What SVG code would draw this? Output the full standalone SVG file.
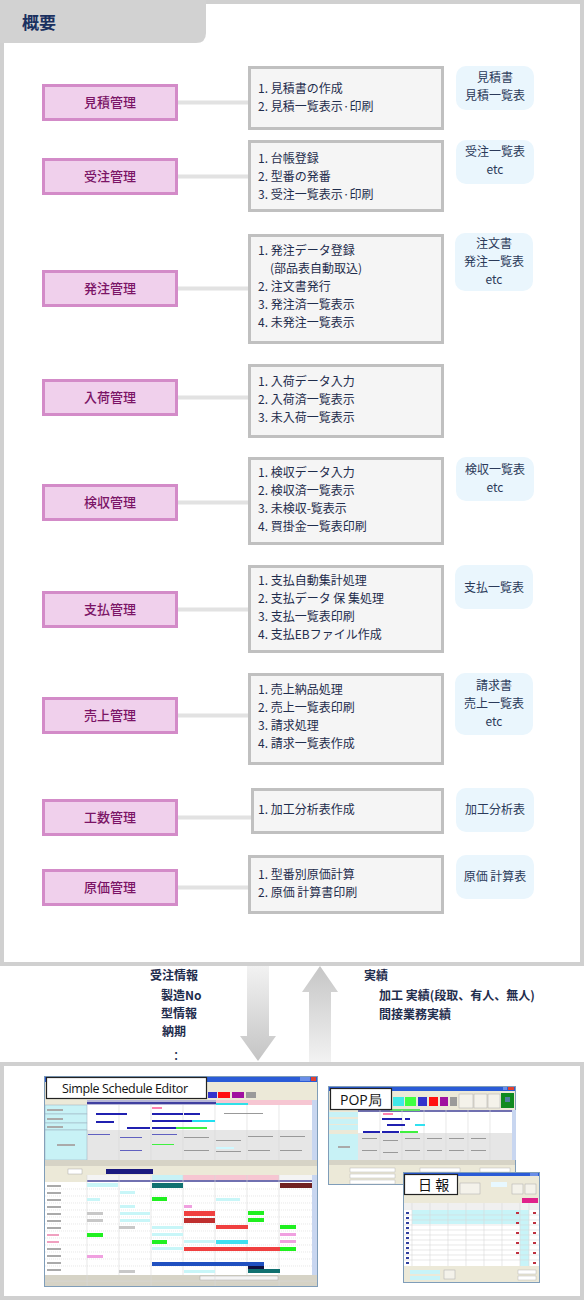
<svg xmlns="http://www.w3.org/2000/svg" width="584" height="1300" viewBox="0 0 584 1300">
<defs>
<linearGradient id="gDown" x1="0" y1="0" x2="0" y2="1"><stop offset="0" stop-color="#f2f2f2"/><stop offset="1" stop-color="#c4c4c4"/></linearGradient>
<linearGradient id="gUp" x1="0" y1="0" x2="0" y2="1"><stop offset="0" stop-color="#c6c6c6"/><stop offset="1" stop-color="#f2f2f2"/></linearGradient>
<style>
text{font-family:"Noto Sans CJK JP","Noto Sans",sans-serif}
.mod rect{fill:#f0d0ec;stroke:#d38bc8;stroke-width:3}
.mod text{font-size:13px;fill:#7b1466;text-anchor:middle;font-weight:500}
.itm rect{fill:#f5f5f5;stroke:#c0c0c0;stroke-width:3}
.itm text{font-size:12px;fill:#1f2d4d}
.out rect{fill:#eaf6fd}
.out text{font-size:12px;fill:#2b3a5a;text-anchor:middle}
.con line{stroke:#e2e2e2;stroke-width:4}
.flow{font-size:12px;fill:#1f2d4d;font-weight:bold}
.win{fill:#ece9d8;stroke:#7f9db9;stroke-width:1}
.tb{fill:#2a5bd7}
.lbl rect{fill:#ffffff;stroke:#222;stroke-width:1.2}
.lbl text{font-family:"Open Sans","DejaVu Sans",sans-serif;fill:#111}
.cy{fill:#c8f2f6}
.gl{stroke:#d8d8d8;stroke-width:0.6}
.tx{fill:#aaa}
</style>
</defs>
<rect width="584" height="1300" fill="#ffffff"/>
<!-- top panel -->
<g id="top-panel">
<rect x="0" y="0" width="584" height="966" fill="#d0d0d0"/>
<rect x="4" y="4" width="576" height="958" fill="#ffffff"/>
<path d="M0,0 H206 V33 Q206,43 196,43 H0 Z" fill="#d2d2d2"/>
<text x="22" y="29" style="font-size:17px;font-weight:bold;fill:#1a3060">概要</text>
</g>
<!-- bottom panel -->
<g id="bottom-panel">
<rect x="0" y="1062" width="584" height="238" fill="#d0d0d0"/>
<rect x="4" y="1066" width="576" height="230" fill="#ffffff"/>
</g>

<g id="connectors" class="con">
<line x1="178" y1="102.5" x2="248" y2="102.5"/>
<line x1="178" y1="176.5" x2="248" y2="176.5"/>
<line x1="178" y1="288.5" x2="248" y2="288.5"/>
<line x1="178" y1="397.5" x2="248" y2="397.5"/>
<line x1="178" y1="502.5" x2="248" y2="502.5"/>
<line x1="178" y1="609.5" x2="248" y2="609.5"/>
<line x1="178" y1="715.5" x2="248" y2="715.5"/>
<line x1="178" y1="817.5" x2="251" y2="817.5"/>
<line x1="178" y1="887.5" x2="248" y2="887.5"/>
</g>

<!-- row 1 -->
<g id="mitsumori" class="mod"><rect x="43.5" y="85.5" width="133" height="34"/><text x="110" y="107">見積管理</text></g>
<g id="mitsumori-items" class="itm"><rect x="249.5" y="67.5" width="193" height="61"/><text x="258" y="93">1. 見積書の作成</text><text x="258" y="111">2. 見積一覧表示·印刷</text></g>
<g id="mitsumori-out" class="out"><rect x="456" y="66" width="78" height="44" rx="10"/><text x="495" y="82">見積書</text><text x="495" y="100">見積一覧表</text></g>
<!-- row 2 -->
<g id="juchu" class="mod"><rect x="43.5" y="159.5" width="133" height="34"/><text x="110" y="181">受注管理</text></g>
<g id="juchu-items" class="itm"><rect x="249.5" y="141.5" width="193" height="69"/><text x="258" y="163">1. 台帳登録</text><text x="258" y="181">2. 型番の発番</text><text x="258" y="199">3. 受注一覧表示·印刷</text></g>
<g id="juchu-out" class="out"><rect x="456" y="140" width="78" height="44" rx="10"/><text x="495" y="156">受注一覧表</text><text x="495" y="174">etc</text></g>
<!-- row 3 -->
<g id="hatchu" class="mod"><rect x="43.5" y="271.5" width="133" height="34"/><text x="110" y="293">発注管理</text></g>
<g id="hatchu-items" class="itm"><rect x="249.5" y="235.5" width="193" height="107"/><text x="258" y="255">1. 発注データ登録</text><text x="270" y="273">(部品表自動取込)</text><text x="258" y="291">2. 注文書発行</text><text x="258" y="309">3. 発注済一覧表示</text><text x="258" y="327">4. 未発注一覧表示</text></g>
<g id="hatchu-out" class="out"><rect x="455" y="233" width="78" height="58" rx="10"/><text x="494" y="248">注文書</text><text x="494" y="266">発注一覧表</text><text x="494" y="284">etc</text></g>
<!-- row 4 -->
<g id="nyuka" class="mod"><rect x="43.5" y="380.5" width="133" height="34"/><text x="110" y="402">入荷管理</text></g>
<g id="nyuka-items" class="itm"><rect x="249.5" y="365.5" width="193" height="71"/><text x="258" y="386">1. 入荷データ入力</text><text x="258" y="404">2. 入荷済一覧表示</text><text x="258" y="422">3. 未入荷一覧表示</text></g>
<!-- row 5 -->
<g id="kenshu" class="mod"><rect x="43.5" y="485.5" width="133" height="34"/><text x="110" y="507">検収管理</text></g>
<g id="kenshu-items" class="itm"><rect x="249.5" y="458.5" width="193" height="85"/><text x="258" y="477">1. 検収データ入力</text><text x="258" y="495">2. 検収済一覧表示</text><text x="258" y="513">3. 未検収-覧表示</text><text x="258" y="531">4. 買掛金一覧表印刷</text></g>
<g id="kenshu-out" class="out"><rect x="456" y="457" width="78" height="44" rx="10"/><text x="495" y="474">検収一覧表</text><text x="495" y="492">etc</text></g>
<!-- row 6 -->
<g id="shiharai" class="mod"><rect x="43.5" y="592.5" width="133" height="34"/><text x="110" y="614">支払管理</text></g>
<g id="shiharai-items" class="itm"><rect x="249.5" y="566.5" width="193" height="85"/><text x="258" y="585">1. 支払自動集計処理</text><text x="258" y="603">2. 支払データ 保 集処理</text><text x="258" y="621">3. 支払一覧表印刷</text><text x="258" y="639">4. 支払EBファイル作成</text></g>
<g id="shiharai-out" class="out"><rect x="455" y="565" width="78" height="44" rx="10"/><text x="494" y="592">支払一覧表</text></g>
<!-- row 7 -->
<g id="uriage" class="mod"><rect x="43.5" y="698.5" width="133" height="34"/><text x="110" y="720">売上管理</text></g>
<g id="uriage-items" class="itm"><rect x="249.5" y="674.5" width="193" height="89"/><text x="258" y="694">1. 売上納品処理</text><text x="258" y="712">2. 売上一覧表印刷</text><text x="258" y="730">3. 請求処理</text><text x="258" y="748">4. 請求一覧表作成</text></g>
<g id="uriage-out" class="out"><rect x="455" y="673" width="78" height="62" rx="10"/><text x="494" y="690">請求書</text><text x="494" y="708">売上一覧表</text><text x="494" y="726">etc</text></g>
<!-- row 8 -->
<g id="kosu" class="mod"><rect x="43.5" y="800.5" width="133" height="34"/><text x="110" y="822">工数管理</text></g>
<g id="kosu-items" class="itm"><rect x="252.5" y="789.5" width="190" height="43"/><text x="258" y="814">1. 加工分析表作成</text></g>
<g id="kosu-out" class="out"><rect x="456" y="788" width="78" height="44" rx="10"/><text x="495" y="814">加工分析表</text></g>
<!-- row 9 -->
<g id="genka" class="mod"><rect x="43.5" y="870.5" width="133" height="34"/><text x="110" y="892">原価管理</text></g>
<g id="genka-items" class="itm"><rect x="249.5" y="856.5" width="193" height="56"/><text x="258" y="879">1. 型番別原価計算</text><text x="258" y="897">2. 原価 計算書印刷</text></g>
<g id="genka-out" class="out"><rect x="456" y="855" width="78" height="44" rx="10"/><text x="495" y="881">原価 計算表</text></g>

<!-- flow arrows -->
<g id="flow-arrows">
<path d="M247,966 H269 V1036 H276 L258,1061 L240,1036 H247 Z" fill="url(#gDown)"/>
<path d="M320,966 L338,992 H331 V1062 H309 V992 H302 Z" fill="url(#gUp)"/>
</g>
<g id="flow-down-text">
<text class="flow" x="150" y="980">受注情報</text>
<text class="flow" x="161" y="1000">製造No</text>
<text class="flow" x="161" y="1018">型情報</text>
<text class="flow" x="162" y="1036">納期</text>
<text class="flow" x="174" y="1060" style="font-size:15px;font-weight:normal">:</text>
</g>
<g id="flow-up-text">
<text class="flow" x="364" y="980">実績</text>
<text class="flow" x="379" y="1000">加工 実績(段取、有人、無人)</text>
<text class="flow" x="379" y="1019">間接業務実績</text>
</g>

<!-- Simple Schedule Editor screenshot -->
<g id="schedule-editor">
<rect class="win" x="44.5" y="1076.5" width="273" height="210"/>
<rect class="tb" x="45" y="1077" width="272" height="5"/>
<rect x="300" y="1077" width="5" height="4" fill="#6a8ee8"/><rect x="305" y="1077" width="5" height="4" fill="#6a8ee8"/><rect x="311" y="1077" width="5" height="4" fill="#e04030"/>
<rect x="208" y="1092" width="9" height="6" fill="#3333cc"/>
<rect x="218" y="1092" width="12" height="6" fill="#ff1010"/>
<rect x="232" y="1092" width="12" height="6" fill="#a010a0"/>
<rect x="246" y="1092" width="10" height="6" fill="#9a9a9a"/>
<rect x="87" y="1100" width="225" height="5" fill="#b8b8d8"/>
<rect x="87" y="1102" width="129" height="2" fill="#4040a0"/>
<rect x="216" y="1100" width="96" height="5" fill="#f6c6d2"/>
<rect x="216" y="1103" width="32" height="2" fill="#30e0e8"/>
<rect x="87" y="1105" width="225" height="55" fill="#ffffff"/>
<rect x="87" y="1130" width="225" height="30" fill="#e6e6e6"/>
<rect class="cy" x="45" y="1105" width="42" height="9" stroke="#9ab" stroke-width="0.5"/>
<rect class="cy" x="45" y="1114" width="42" height="9" stroke="#9ab" stroke-width="0.5"/>
<rect class="cy" x="45" y="1123" width="42" height="7" stroke="#9ab" stroke-width="0.5"/>
<rect class="cy" x="45" y="1130" width="42" height="30" stroke="#9ab" stroke-width="0.5"/>
<rect class="tx" x="47" y="1109" width="16" height="2"/><rect class="tx" x="47" y="1118" width="16" height="2"/><rect class="tx" x="47" y="1126" width="16" height="2"/><rect class="tx" x="57" y="1144" width="18" height="2"/>
<g class="gl"><line x1="119" y1="1105" x2="119" y2="1160"/><line x1="151" y1="1105" x2="151" y2="1160"/><line x1="183" y1="1105" x2="183" y2="1160"/><line x1="215" y1="1105" x2="215" y2="1160"/><line x1="247" y1="1105" x2="247" y2="1160"/><line x1="279" y1="1105" x2="279" y2="1160"/></g>
<rect x="96" y="1113" width="31" height="2" fill="#2020b0"/><rect x="152" y="1113" width="31" height="2" fill="#2020b0"/><rect x="184" y="1113" width="16" height="2" fill="#2020b0"/><rect x="224" y="1113" width="39" height="1" fill="#999"/>
<rect x="152" y="1107" width="10" height="2" fill="#ff80b0"/>
<rect x="96" y="1121" width="18" height="2" fill="#2020b0"/><rect x="152" y="1120" width="40" height="2" fill="#2020b0"/><rect x="192" y="1120" width="23" height="2" fill="#20e0f0"/>
<rect x="127" y="1127" width="23" height="2" fill="#2020b0"/><rect x="152" y="1127" width="24" height="2" fill="#2020b0"/><rect x="176" y="1127" width="31" height="2" fill="#40f040"/>
<rect x="88" y="1134" width="22" height="1" fill="#6060c0"/><rect x="120" y="1137" width="22" height="1" fill="#6060c0"/><rect x="152" y="1134" width="25" height="1" fill="#6060c0"/><rect x="184" y="1137" width="25" height="1" fill="#999"/><rect x="216" y="1140" width="25" height="1" fill="#999"/><rect x="248" y="1136" width="25" height="1" fill="#999"/><rect x="280" y="1136" width="25" height="1" fill="#999"/>
<rect x="120" y="1150" width="22" height="1" fill="#6060c0"/><rect x="152" y="1144" width="22" height="1" fill="#40f040"/><rect x="184" y="1150" width="25" height="1" fill="#999"/><rect x="216" y="1151" width="25" height="1" fill="#999"/><rect x="248" y="1150" width="22" height="1" fill="#999"/><rect x="280" y="1150" width="22" height="1" fill="#999"/>
<rect x="216" y="1147" width="18" height="2" fill="#d0f8ff"/>
<rect x="312" y="1100" width="5" height="60" fill="#c8d6f0"/>
<rect x="45" y="1160" width="272" height="6" fill="#d6d3c6"/>
<rect x="106" y="1169" width="47" height="5" fill="#1a1a80"/>
<rect x="68" y="1169" width="14" height="5" fill="#ffffff" stroke="#999" stroke-width="0.4"/>
<rect x="87" y="1175" width="225" height="7" fill="#f4f4f4"/>
<rect x="183" y="1175" width="96" height="7" fill="#f6c6d2"/>
<rect x="152" y="1175" width="31" height="7" fill="#c8f2f6"/>
<rect x="87" y="1180" width="225" height="2" fill="#7070b0"/>
<rect x="45" y="1182" width="42" height="93" fill="#ffffff"/>
<rect x="87" y="1182" width="225" height="93" fill="#ffffff"/>
<g class="gl"><line x1="119" y1="1175" x2="119" y2="1275"/><line x1="151" y1="1175" x2="151" y2="1275"/><line x1="183" y1="1175" x2="183" y2="1275"/><line x1="215" y1="1175" x2="215" y2="1275"/><line x1="247" y1="1175" x2="247" y2="1275"/><line x1="279" y1="1175" x2="279" y2="1275"/><line x1="87" y1="1175" x2="87" y2="1275"/></g>
<g class="gl" stroke-dasharray="1 1"><line x1="45" y1="1189" x2="312" y2="1189"/><line x1="45" y1="1196" x2="312" y2="1196"/><line x1="45" y1="1203" x2="312" y2="1203"/><line x1="45" y1="1210" x2="312" y2="1210"/><line x1="45" y1="1217" x2="312" y2="1217"/><line x1="45" y1="1224" x2="312" y2="1224"/><line x1="45" y1="1231" x2="312" y2="1231"/><line x1="45" y1="1238" x2="312" y2="1238"/><line x1="45" y1="1245" x2="312" y2="1245"/><line x1="45" y1="1252" x2="312" y2="1252"/><line x1="45" y1="1259" x2="312" y2="1259"/><line x1="45" y1="1266" x2="312" y2="1266"/></g>
<g class="tx"><rect x="47" y="1185" width="14" height="2"/><rect x="47" y="1192" width="14" height="2"/><rect x="47" y="1199" width="14" height="2"/><rect x="47" y="1206" width="14" height="2"/><rect x="47" y="1213" width="14" height="2"/><rect x="47" y="1220" width="14" height="2"/><rect x="47" y="1227" width="14" height="2"/><rect x="47" y="1248" width="14" height="2"/><rect x="47" y="1255" width="14" height="2"/><rect x="47" y="1262" width="14" height="2"/><rect x="47" y="1269" width="14" height="2"/></g>
<rect x="47" y="1234" width="12" height="2" fill="#f0a0c0"/><rect x="47" y="1241" width="12" height="2" fill="#f0a0c0"/>
<rect x="87" y="1183" width="31" height="4" fill="#c8f6f8"/><rect x="152" y="1183" width="31" height="5" fill="#107070"/><rect x="280" y="1183" width="32" height="5" fill="#702020"/>
<rect x="120" y="1191" width="15" height="3" fill="#c8f6f8"/>
<rect x="87" y="1198" width="13" height="3" fill="#c8f6f8"/><rect x="152" y="1197" width="15" height="4" fill="#20f020"/><rect x="216" y="1198" width="24" height="3" fill="#c8f6f8"/>
<rect x="120" y="1205" width="15" height="3" fill="#c8f6f8"/><rect x="184" y="1205" width="8" height="3" fill="#f0a0e0"/>
<rect x="87" y="1212" width="16" height="3" fill="#c8c8c8"/><rect x="120" y="1212" width="30" height="3" fill="#c8f6f8"/><rect x="184" y="1211" width="31" height="5" fill="#f04040"/><rect x="248" y="1211" width="16" height="4" fill="#20f020"/>
<rect x="87" y="1219" width="16" height="3" fill="#c8c8c8"/><rect x="120" y="1219" width="30" height="3" fill="#c8f6f8"/><rect x="184" y="1218" width="31" height="5" fill="#c03030"/><rect x="248" y="1218" width="16" height="4" fill="#20f020"/>
<rect x="119" y="1226" width="16" height="3" fill="#c8c8c8"/><rect x="152" y="1226" width="31" height="3" fill="#c8f6f8"/><rect x="216" y="1225" width="32" height="4" fill="#f04040"/><rect x="280" y="1225" width="16" height="4" fill="#20f020"/>
<rect x="87" y="1233" width="16" height="4" fill="#20f020"/><rect x="152" y="1233" width="31" height="3" fill="#c8f6f8"/><rect x="280" y="1233" width="16" height="3" fill="#f0a0e0"/>
<rect x="152" y="1240" width="15" height="4" fill="#20f020"/><rect x="184" y="1240" width="31" height="3" fill="#c8f6f8"/><rect x="216" y="1240" width="32" height="4" fill="#40e0f0"/><rect x="280" y="1240" width="16" height="3" fill="#f0a0e0"/>
<rect x="152" y="1247" width="31" height="3" fill="#c8f6f8"/><rect x="184" y="1247" width="96" height="4" fill="#f04040"/><rect x="280" y="1247" width="16" height="4" fill="#20f020"/>
<rect x="87" y="1255" width="16" height="3" fill="#f0a0e0"/>
<rect x="152" y="1262" width="112" height="4" fill="#2050c0"/>
<rect x="248" y="1266" width="16" height="3" fill="#101040"/>
<rect x="119" y="1270" width="16" height="3" fill="#c8c8c8"/><rect x="184" y="1270" width="31" height="3" fill="#c8f6f8"/><rect x="248" y="1269" width="32" height="4" fill="#107070"/>
<rect x="312" y="1175" width="5" height="100" fill="#c8d6f0"/>
<rect x="45" y="1275" width="272" height="11" fill="#d6d3c6"/>
<rect x="200" y="1276" width="78" height="4" fill="#f4f4f4" stroke="#999" stroke-width="0.4"/>
<g class="gl"><line x1="87" y1="1275" x2="87" y2="1286"/><line x1="151" y1="1275" x2="151" y2="1286"/><line x1="215" y1="1275" x2="215" y2="1286"/><line x1="279" y1="1275" x2="279" y2="1286"/><line x1="45" y1="1281" x2="317" y2="1281"/></g>
<g class="lbl"><rect x="46.5" y="1077.5" width="160" height="21"/><text x="62" y="1093" style="font-size:12.5px" textLength="126">Simple Schedule Editor</text></g>
</g>

<!-- POP局 screenshot -->
<g id="pop">
<rect class="win" x="328.5" y="1086.5" width="187" height="98"/>
<rect class="tb" x="329" y="1087" width="186" height="4"/>
<rect x="503" y="1087" width="4" height="3" fill="#6a8ee8"/><rect x="508" y="1087" width="6" height="3" fill="#e04030"/>
<rect x="393" y="1097" width="11" height="9" fill="#40e8e8"/>
<rect x="405" y="1097" width="11" height="9" fill="#40ff40"/>
<rect x="418" y="1097" width="9" height="9" fill="#3333cc"/>
<rect x="429" y="1097" width="9" height="9" fill="#ff1010"/>
<rect x="440" y="1097" width="8" height="9" fill="#a010a0"/>
<rect x="450" y="1097" width="7" height="9" fill="#9a9a9a"/>
<rect x="459" y="1094" width="14" height="14" fill="#f4f2ea" stroke="#aaa" stroke-width="0.5"/>
<rect x="474" y="1094" width="13" height="14" fill="#f4f2ea" stroke="#aaa" stroke-width="0.5"/>
<rect x="488" y="1094" width="12" height="14" fill="#f4f2ea" stroke="#aaa" stroke-width="0.5"/>
<rect x="501" y="1093" width="13" height="15" fill="#108a20"/>
<rect x="505" y="1097" width="5" height="5" fill="#5080a0"/>
<rect x="358" y="1110" width="154" height="23" fill="#ffffff"/>
<rect x="358" y="1133" width="154" height="27" fill="#e6e6e6"/>
<rect x="358" y="1110" width="154" height="2" fill="#7070b0"/>
<rect x="390" y="1109" width="30" height="2" fill="#60e060"/>
<rect class="cy" x="329" y="1112" width="29" height="5"/>
<rect class="cy" x="329" y="1119" width="29" height="5"/>
<rect class="cy" x="329" y="1125" width="29" height="5"/>
<rect class="cy" x="329" y="1134" width="29" height="26"/>
<rect class="tx" x="338" y="1146" width="12" height="2"/>
<g class="gl"><line x1="380" y1="1110" x2="380" y2="1160"/><line x1="402" y1="1110" x2="402" y2="1160"/><line x1="424" y1="1110" x2="424" y2="1160"/><line x1="446" y1="1110" x2="446" y2="1160"/><line x1="468" y1="1110" x2="468" y2="1160"/><line x1="490" y1="1110" x2="490" y2="1160"/></g>
<rect x="382" y="1118" width="20" height="2" fill="#2020b0"/><rect x="405" y="1118" width="5" height="2" fill="#2020b0"/>
<rect x="387" y="1124" width="18" height="2" fill="#2020b0"/><rect x="415" y="1124" width="10" height="2" fill="#30e0f0"/>
<rect x="363" y="1131" width="17" height="2" fill="#2020b0"/><rect x="382" y="1131" width="17" height="2" fill="#2020b0"/><rect x="400" y="1131" width="18" height="2" fill="#40f040"/>
<rect x="383" y="1113" width="10" height="2" fill="#ff80b0"/>
<g fill="#999"><rect x="362" y="1138" width="15" height="1"/><rect x="383" y="1140" width="15" height="1"/><rect x="405" y="1138" width="15" height="1"/><rect x="427" y="1138" width="15" height="1"/><rect x="449" y="1138" width="15" height="1"/><rect x="471" y="1138" width="15" height="1"/><rect x="362" y="1150" width="15" height="1"/><rect x="383" y="1152" width="15" height="1"/><rect x="405" y="1150" width="15" height="1"/><rect x="427" y="1150" width="15" height="1"/><rect x="449" y="1150" width="15" height="1"/><rect x="471" y="1150" width="15" height="1"/></g>
<rect x="512" y="1110" width="4" height="50" fill="#c8d6f0"/>
<rect x="329" y="1160" width="186" height="5" fill="#d6d3c6"/>
<rect x="350" y="1168" width="45" height="4" fill="#ffffff" stroke="#aaa" stroke-width="0.4"/>
<rect x="350" y="1174" width="45" height="4" fill="#ffffff" stroke="#aaa" stroke-width="0.4"/>
<rect x="350" y="1180" width="45" height="4" fill="#ffffff" stroke="#aaa" stroke-width="0.4"/>
<rect x="420" y="1168" width="40" height="4" fill="#ffffff" stroke="#aaa" stroke-width="0.4"/>
<rect x="480" y="1168" width="30" height="4" fill="#ffffff" stroke="#aaa" stroke-width="0.4"/>
<g class="lbl"><rect x="330.5" y="1088.5" width="61" height="21"/><text x="340" y="1105" style="font-size:14px">POP局</text></g>
</g>

<!-- 日報 screenshot -->
<g id="nippo">
<rect class="win" x="403.5" y="1172.5" width="136" height="110"/>
<rect class="tb" x="404" y="1173" width="135" height="3"/>
<rect x="530" y="1173" width="8" height="3" fill="#6a8ee8"/>
<rect x="460" y="1183" width="20" height="11" fill="#f4f2ea" stroke="#aaa" stroke-width="0.5"/>
<rect x="491" y="1182" width="16" height="5" fill="#e8f8ff"/>
<rect x="512" y="1184" width="11" height="10" fill="#f4f2ea" stroke="#aaa" stroke-width="0.5"/>
<rect x="525" y="1184" width="11" height="10" fill="#f4f2ea" stroke="#aaa" stroke-width="0.5"/>
<rect x="522" y="1198" width="16" height="5" fill="#e0208a"/>
<rect x="404" y="1203" width="135" height="7" fill="#f0f0f0"/>
<rect x="404" y="1210" width="135" height="56" fill="#ffffff"/>
<rect x="412" y="1210" width="108" height="14" fill="#c8f4f8"/>
<rect x="520" y="1210" width="9" height="56" fill="#c8f4f8"/>
<g class="gl"><line x1="412" y1="1203" x2="412" y2="1266"/><line x1="430" y1="1203" x2="430" y2="1266"/><line x1="448" y1="1203" x2="448" y2="1266"/><line x1="466" y1="1203" x2="466" y2="1266"/><line x1="484" y1="1203" x2="484" y2="1266"/><line x1="502" y1="1203" x2="502" y2="1266"/><line x1="520" y1="1203" x2="520" y2="1266"/><line x1="529" y1="1203" x2="529" y2="1266"/><line x1="404" y1="1215" x2="539" y2="1215"/><line x1="404" y1="1220" x2="539" y2="1220"/><line x1="404" y1="1225" x2="539" y2="1225"/><line x1="404" y1="1230" x2="539" y2="1230"/><line x1="404" y1="1235" x2="539" y2="1235"/><line x1="404" y1="1240" x2="539" y2="1240"/><line x1="404" y1="1245" x2="539" y2="1245"/><line x1="404" y1="1250" x2="539" y2="1250"/><line x1="404" y1="1255" x2="539" y2="1255"/><line x1="404" y1="1260" x2="539" y2="1260"/></g>
<g fill="#3040a0"><rect x="406" y="1212" width="3" height="2"/><rect x="406" y="1217" width="3" height="2"/><rect x="406" y="1222" width="3" height="2"/><rect x="406" y="1227" width="3" height="2"/><rect x="406" y="1232" width="3" height="2"/><rect x="406" y="1237" width="3" height="2"/><rect x="406" y="1242" width="3" height="2"/><rect x="406" y="1247" width="3" height="2"/><rect x="406" y="1252" width="3" height="2"/><rect x="406" y="1257" width="3" height="2"/><rect x="406" y="1262" width="3" height="2"/></g>
<g fill="#c03040"><rect x="516" y="1212" width="3" height="2"/><rect x="516" y="1222" width="3" height="2"/><rect x="516" y="1232" width="3" height="2"/><rect x="516" y="1242" width="3" height="2"/><rect x="516" y="1252" width="3" height="2"/><rect x="533" y="1212" width="3" height="2"/><rect x="533" y="1222" width="3" height="2"/><rect x="533" y="1232" width="3" height="2"/><rect x="533" y="1242" width="3" height="2"/><rect x="533" y="1252" width="3" height="2"/><rect x="533" y="1262" width="3" height="2"/></g>
<rect x="410" y="1270" width="30" height="4" fill="#c8f4f8"/>
<rect x="410" y="1276" width="30" height="4" fill="#c8f4f8"/>
<rect x="444" y="1270" width="11" height="9" fill="#f4f2ea" stroke="#aaa" stroke-width="0.5"/>
<rect x="518" y="1270" width="18" height="4" fill="#ffffff" stroke="#aaa" stroke-width="0.4"/>
<rect x="518" y="1276" width="18" height="4" fill="#ffffff" stroke="#aaa" stroke-width="0.4"/>
<g class="lbl"><rect x="404.5" y="1174.5" width="53" height="20"/><text x="418" y="1190" style="font-size:14px;font-family:'Noto Sans CJK JP',sans-serif">日 報</text></g>
</g>
</svg>
